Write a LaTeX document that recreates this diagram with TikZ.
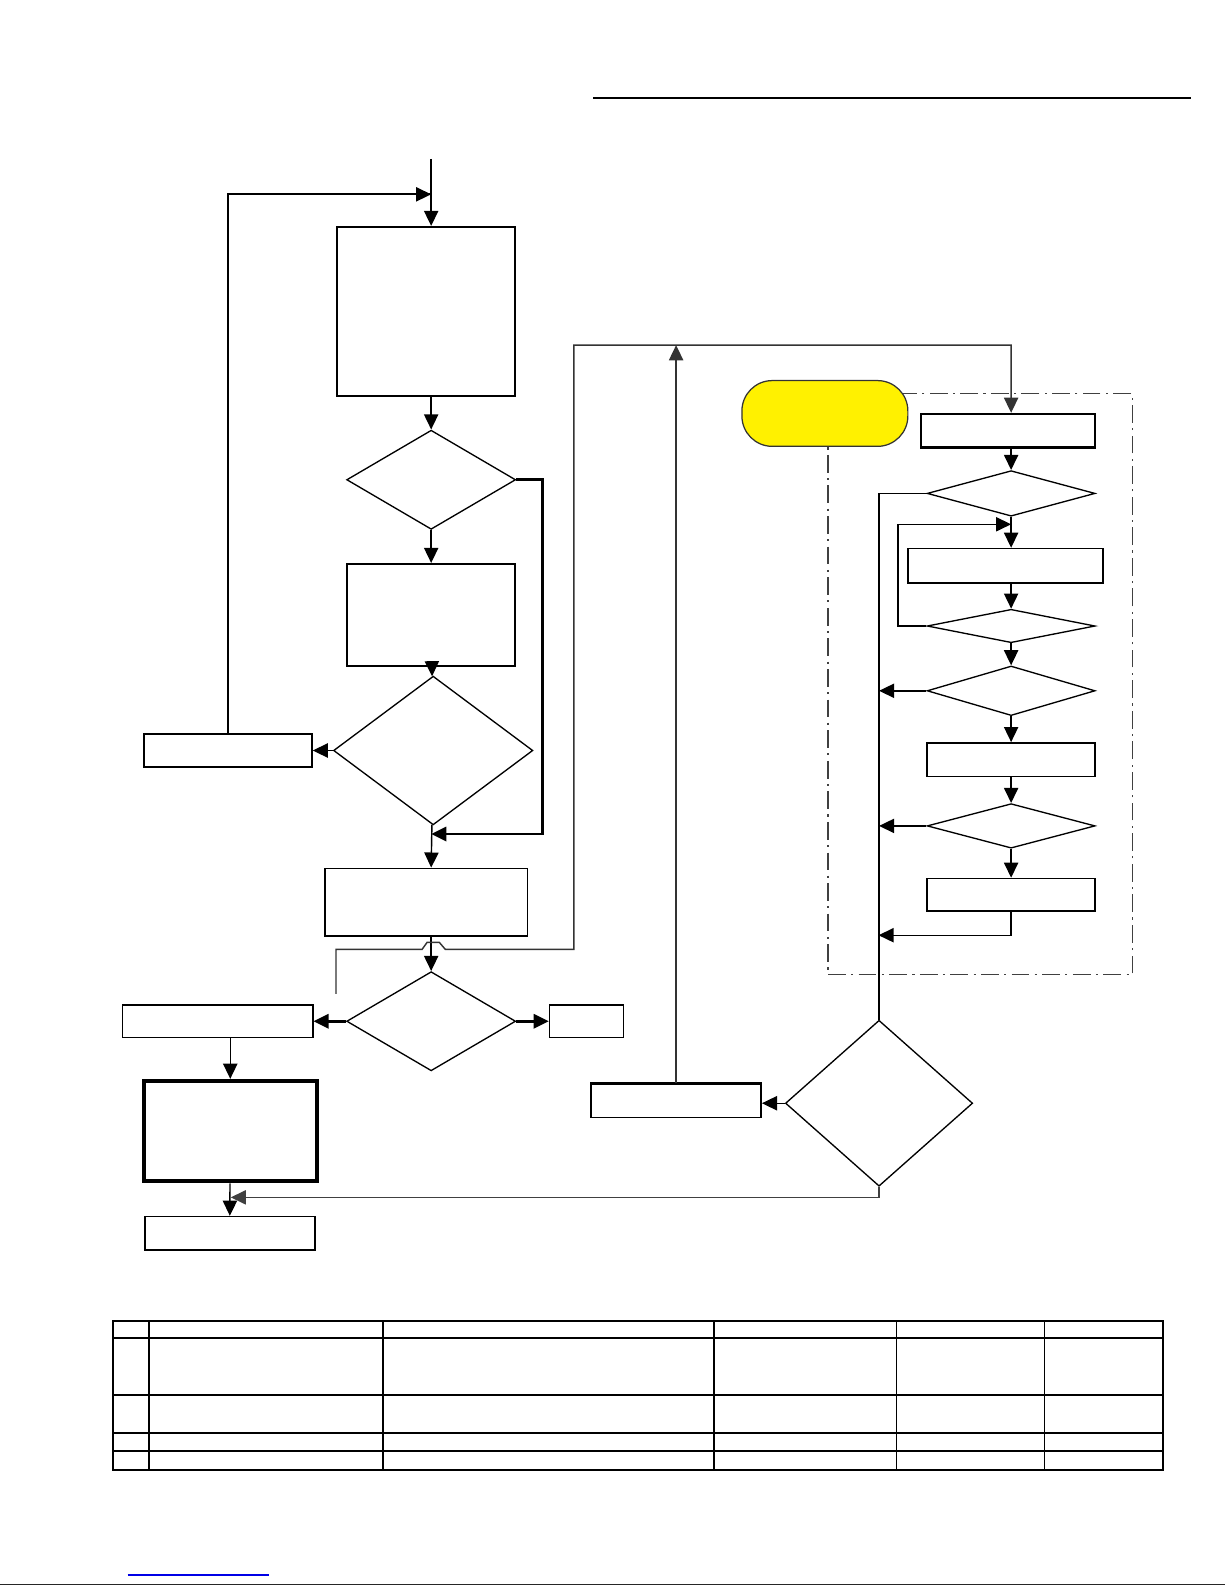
\documentclass[tikz,border=0pt]{standalone}
\usepackage{tikz}
\usetikzlibrary{shapes.geometric, arrows, arrows.meta}
\definecolor{markyellow}{RGB}{255,241,0}
\definecolor{linkblue}{RGB}{0,0,230}
\tikzstyle{process} = [rectangle, draw=black, line width=0.9pt, inner sep=0pt, text centered]
\tikzstyle{decision} = [diamond, draw=black, line width=0.75pt, inner sep=0pt, text centered]
\tikzstyle{note} = [rectangle, rounded corners=0.6cm, draw=black!80, line width=0.7pt, fill=markyellow, inner sep=0pt]
\tikzstyle{arrow} = [line width=0.8pt, -{Triangle[length=8.5pt, width=8pt]}]
\tikzstyle{heavyarrow} = [line width=1.5pt, -{Triangle[length=8.5pt, width=8pt]}]
\tikzstyle{line} = [line width=0.8pt]
\tikzstyle{frame} = [line width=0.7pt, draw=black!75, dash pattern=on 10pt off 3pt on 1.2pt off 3pt]

\begin{document}
\begin{tikzpicture}[x=0.02cm, y=-0.02cm]
		\useasboundingbox (0,0) rectangle (1210,1566);
		% header rule
		\draw [line width=1.3pt] (586,97) -- (1177,97);
		% main column
		\coordinate (start) at (426,157);
		\coordinate (j0) at (426,192);
		\node (b1) [process, minimum width=3.52cm, minimum height=3.34cm] at (421,307.5) {};
		\node (d1) [decision, minimum width=3.34cm, minimum height=1.96cm] at (426,474) {};
		\node (b2) [process, minimum width=3.32cm, minimum height=2.02cm] at (426,607.5) {};
		\node (d2) [decision, minimum width=3.94cm, minimum height=2.94cm] at (428,741.5) {};
		\coordinate (j1) at (426,824);
		\node (b3) [process, minimum width=4.00cm, minimum height=1.34cm] at (421,891.5) {};
		\node (d3) [decision, minimum width=3.34cm, minimum height=1.96cm] at (426,1009) {};
		% left branch
		\node (l1) [process, line width=1.1pt, minimum width=3.32cm, minimum height=0.66cm] at (225,741.5) {};
		\node (l2) [process, minimum width=3.76cm, minimum height=0.64cm] at (215,1009) {};
		\node (l3) [process, line width=2.4pt, minimum width=3.42cm, minimum height=1.98cm] at (227.5,1117.5) {};
		\coordinate (j2) at (228,1183);
		\node (l4) [process, minimum width=3.36cm, minimum height=0.66cm] at (227,1218.5) {};
		\node (r0) [process, minimum width=1.46cm, minimum height=0.64cm] at (579.5,1009) {};
		% right group
		\draw [frame] (818,389) rectangle (1119,963);
		\node (tag) [note, minimum width=3.28cm, minimum height=1.30cm] at (815,408.5) {};
		\node (rb1) [process, line width=1.3pt, minimum width=3.44cm, minimum height=0.66cm] at (996,425.5) {};
		\node (rd1) [decision, minimum width=3.32cm, minimum height=0.90cm] at (999,487.5) {};
		\coordinate (j4) at (999,518);
		\node (rb2) [process, minimum width=3.86cm, minimum height=0.68cm] at (993.5,559) {};
		\node (rd2) [decision, minimum width=3.32cm, minimum height=0.66cm] at (999,618.5) {};
		\node (rd3) [decision, minimum width=3.32cm, minimum height=0.98cm] at (999,682.5) {};
		\node (rb3) [process, minimum width=3.32cm, minimum height=0.66cm] at (999,750.5) {};
		\node (rd4) [decision, minimum width=3.32cm, minimum height=0.88cm] at (999,816) {};
		\node (rb4) [process, minimum width=3.32cm, minimum height=0.64cm] at (999,884) {};
		\coordinate (j5) at (868,924);
		\node (dB) [decision, minimum width=3.70cm, minimum height=3.28cm] at (868.5,1090) {};
		\node (bb2) [process, minimum width=3.36cm, minimum height=0.66cm] at (668,1087.5) {};
		\draw [line width=1.4pt] (bb2.north west) -- (bb2.north east);
		\coordinate (j3) at (668,341);
		\coordinate (k0) at (332,982);
		% connectors, main column
		\draw [arrow] (start) -- (start |- b1.north);
		\draw [arrow] (b1.south -| d1) -- (d1);
		\draw [arrow] (d1) -- (b2);
		\draw [arrow] (b2) -- (d2);
		\draw [arrow] (d2) -- (b3.north -| d3);
		\draw [arrow] (b3.south -| d3) -- (d3);
		\draw [heavyarrow] (d1.east) -- ++(26,0) |- (j1);
		\draw [arrow] (d2.west) -- (l1.east);
		\draw [line width=1.2pt] (l1.north) |- (j0);
		\draw [arrow] (l1.north |- j0) -- (j0);
		\draw [heavyarrow] (d3.west) -- (l2.east);
		\draw [heavyarrow] (d3.east) -- (r0.west);
		\draw [arrow] (l2.south -| l3) -- (l3);
		\draw [arrow] (l3) -- (l4);
		% long return line with hop
		\draw [arrow, draw=black!80] (k0) -- (332,938) -- (417,938) -- (422,931) -- (434,931) -- (440,938)
			-- (567,938) -- (567,341) -| (rb1.north -| rd1);
		\draw [arrow, draw=black!80] (bb2.north) -- (j3);
		% connectors, right group
		\draw [arrow] (rb1.south -| rd1) -- (rd1);
		\draw [arrow] (rd1) -- (rb2.north -| rd1);
		\draw [arrow] (rd2.west) -- ++(-28,0) |- (j4);
		\draw [arrow] (rb2.south -| rd2) -- (rd2);
		\draw [arrow] (rd2) -- (rd3);
		\draw [arrow] (rd3) -- (rb3);
		\draw [arrow] (rb3) -- (rd4);
		\draw [arrow] (rd4) -- (rb4);
		\draw [line] (rd1.west) -| (dB.north);
		\draw [arrow] (rd3.west) -- (rd3.west -| dB.north);
		\draw [arrow] (rd4.west) -- (rd4.west -| dB.north);
		\draw [arrow] (rb4.south) |- (j5);
		\draw [arrow] (dB.west) -- (dB.west -| bb2.east);
		\draw [arrow, draw=black!75] (dB.south) |- (j2);
		% table
		\draw [line width=1.2pt] (112,1305) rectangle (1149,1452);
		\foreach \ry in {1322,1378,1416,1434}
			\draw [line width=1.1pt] (112,\ry) -- (1149,\ry);
		\foreach \cx in {147,378,705}
			\draw [line width=1.1pt] (\cx,1305) -- (\cx,1452);
		\foreach \cx in {886,1032}
			\draw [line width=0.5pt] (\cx,1305) -- (\cx,1452);
		% link mark and page edge
		\draw [linkblue, line width=0.7pt] (126,1556) -- (266,1556);
		\draw [black!85, line width=0.6pt] (0,1565.4) -- (1210,1565.4);
\end{tikzpicture}
\end{document}
